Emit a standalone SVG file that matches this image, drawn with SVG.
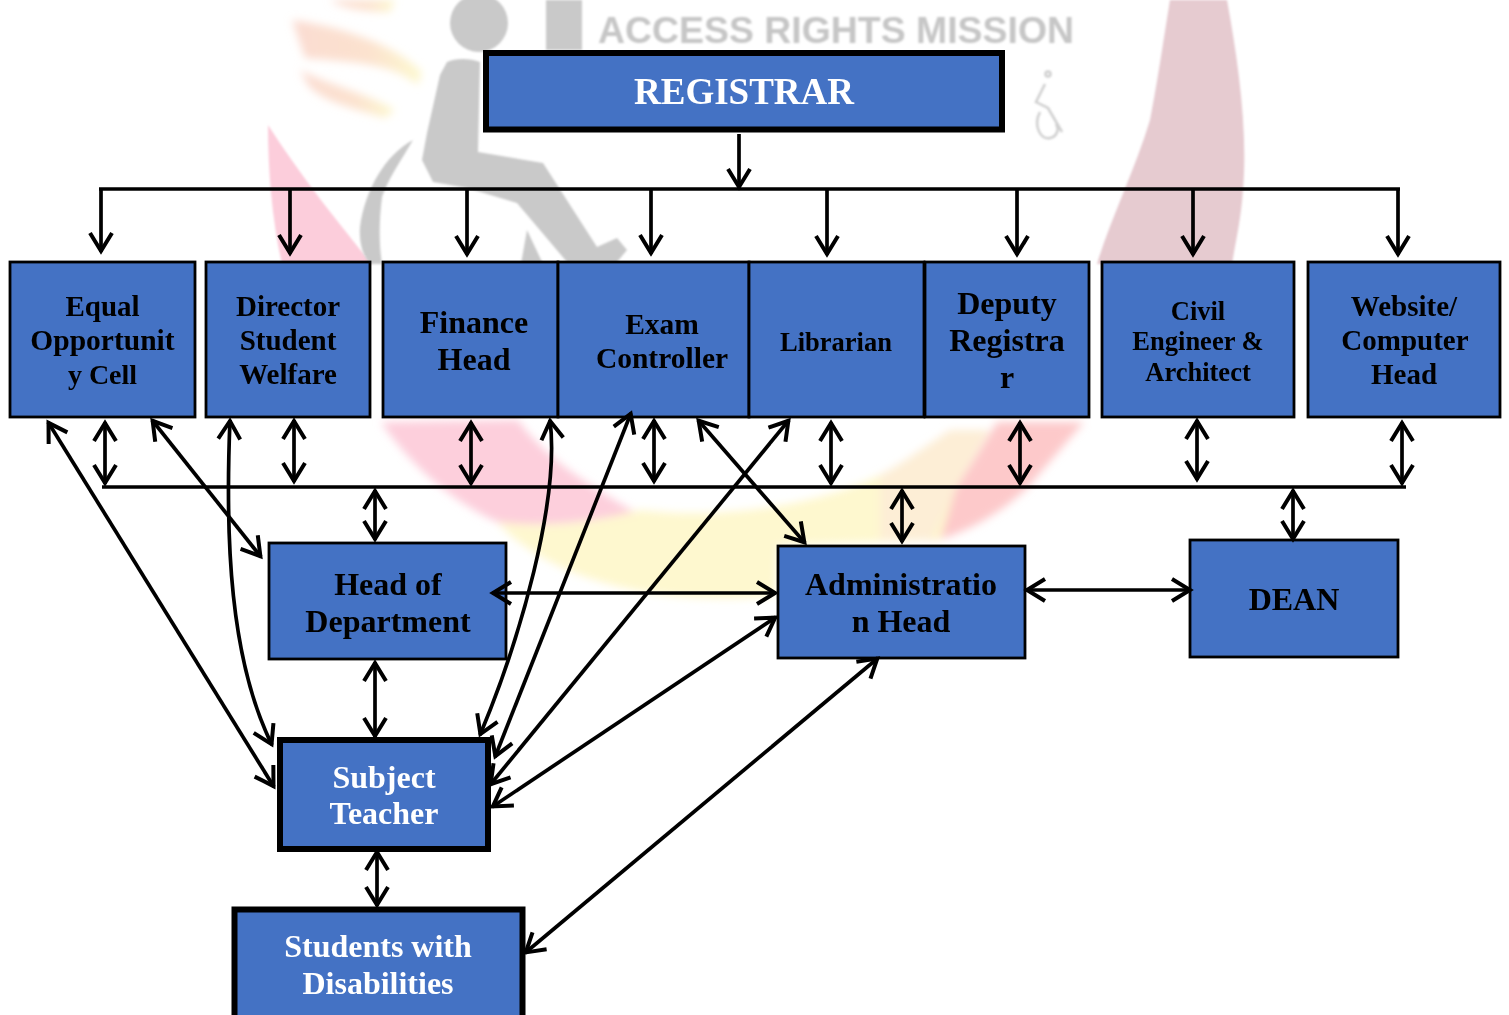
<svg xmlns="http://www.w3.org/2000/svg" width="1509" height="1015" viewBox="0 0 1509 1015">
<style>
.box{fill:#4472c4;stroke:#000;stroke-width:2.8}
.thick{fill:#4472c4;stroke:#000;stroke-width:6}
text{font-family:"Liberation Serif","Times New Roman",serif;font-weight:700;text-anchor:middle;fill:#000}
.w{fill:#fff}
.c path{fill:none;stroke:#000;stroke-width:3.7}
.one{marker-end:url(#a)}
.two{marker-start:url(#a);marker-end:url(#a)}
</style>
<defs>
<marker id="a" viewBox="-24 -14 28 28" refX="0" refY="0" markerUnits="userSpaceOnUse" markerWidth="28" markerHeight="28" orient="auto-start-reverse">
<path d="M-19,-11 L-1,0 L-19,11" fill="none" stroke="#000" stroke-width="4"/>
</marker>
<filter id="b" x="-15%" y="-15%" width="130%" height="130%"><feGaussianBlur stdDeviation="4"/></filter>
<filter id="b2" x="-5%" y="-5%" width="110%" height="110%"><feGaussianBlur stdDeviation="1"/></filter>
<linearGradient id="s"><stop offset="0" stop-color="#fbd3c6"/><stop offset="0.6" stop-color="#fcdcc4"/><stop offset="1" stop-color="#fdf8c4"/></linearGradient>
</defs>
<rect width="1509" height="1015" fill="#fff"/>
<g id="watermark">
<g filter="url(#b)">
<g opacity="0.8">
<path d="M330,0 L395,0 L390,12 C365,12 340,8 330,0Z" fill="url(#s)"/>
<path d="M292,20 C330,25 390,40 422,72 L418,85 C390,62 350,62 305,58Z" fill="url(#s)"/>
<path d="M300,70 C330,85 370,95 395,110 L385,118 C350,108 320,100 308,85Z" fill="url(#s)"/>
</g>
<path d="M1084,422 L1028,487 C1000,515 960,535 931,542 L957,487 L997,422Z" fill="#fdc9ca"/>
<path d="M381,422 L518,420 C540,450 570,475 635,512 C590,522 540,528 497,522 C450,500 410,465 381,422Z" fill="#fdcfdc"/>
<path d="M497,522 C560,530 610,518 640,510 C720,520 820,505 880,475 L960,475 L940,540 L778,545 L775,596 C680,605 560,590 497,522Z" fill="#fef8cf"/>
<path d="M880,475 C900,465 920,450 950,430 L990,430 L957,487 L931,540 L880,540Z" fill="#fdeed6"/>
</g>
<path d="M268,125 C300,175 340,225 372,264 L282,264 C272,220 268,170 268,125Z" fill="#fccddb" filter="url(#b2)"/>
<path d="M1170,0 L1227,0 C1238,60 1248,130 1243,190 C1241,220 1235,245 1232,264 L1097,264 C1110,220 1135,170 1150,120 C1158,80 1165,30 1170,0Z" fill="#e6cbd0" filter="url(#b2)"/>
<g filter="url(#b2)" fill="#c9c9c9" stroke="none">
<circle cx="479" cy="23" r="29"/>
<rect x="546" y="0" width="36" height="50"/>
<path d="M447,62 C455,58 470,58 480,62 L478,152 L543,163 L597,247 L617,238 L627,250 L617,262 L567,262 L517,203 L467,188 L433,182 L422,160 L427,133 L440,75Z"/>
<path d="M413,140 C385,155 365,190 360,227 C359,240 362,255 370,264 L382,264 C380,250 378,230 382,197 C388,180 398,165 407,150Z"/>
<path d="M527,230 L521,264 L543,264Z"/>
<text x="836" y="43" font-size="37" style="font-family:'Liberation Sans',sans-serif;fill:#c6c6c6" textLength="476" lengthAdjust="spacingAndGlyphs">ACCESS RIGHTS MISSION</text>
<g fill="none" stroke="#cfcfcf" stroke-width="2.5">
<circle cx="1048" cy="74" r="2.5"/>
<path d="M1045,84 L1036,102 L1048,108 L1062,132"/>
<path d="M1040,112 C1033,125 1040,140 1050,138 C1056,137 1060,130 1056,124"/>
</g>
</g>
</g>
<g id="registrar"><rect class="thick" x="486" y="53" width="516" height="76.5"/><text class="w" x="744" y="104" font-size="37">REGISTRAR</text></g>
<g id="equal"><rect class="box" x="10" y="262" width="185" height="155"/><text x="102.500" y="316" font-size="29">Equal</text><text x="102.500" y="350" font-size="29.500">Opportunit</text><text x="102.500" y="384" font-size="28">y Cell</text></g>
<g id="director"><rect class="box" x="206" y="262" width="164" height="155"/><text x="288" y="316" font-size="29">Director</text><text x="288" y="350" font-size="29">Student</text><text x="288" y="384" font-size="29">Welfare</text></g>
<g id="finance"><rect class="box" x="383" y="262" width="175" height="155"/><text x="474" y="333" font-size="32">Finance</text><text x="474" y="370" font-size="32">Head</text></g>
<g id="exam"><rect class="box" x="558" y="262" width="191" height="155"/><text x="662" y="334" font-size="29.500">Exam</text><text x="662" y="368" font-size="29.500">Controller</text></g>
<g id="librarian"><rect class="box" x="749" y="262" width="175" height="155"/><text x="836" y="351" font-size="26.500">Librarian</text></g>
<g id="deputy"><rect class="box" x="925" y="262" width="164" height="155"/><text x="1007" y="314" font-size="32">Deputy</text><text x="1007" y="351" font-size="32">Registra</text><text x="1007" y="388" font-size="32">r</text></g>
<g id="civil"><rect class="box" x="1102" y="262" width="192" height="155"/><text x="1198" y="320" font-size="26.500">Civil</text><text x="1198" y="350" font-size="26.500">Engineer &amp;</text><text x="1198" y="381" font-size="26.500">Architect</text></g>
<g id="website"><rect class="box" x="1308" y="262" width="192" height="155"/><text x="1404" y="316" font-size="29">Website/</text><text x="1405" y="350" font-size="29">Computer</text><text x="1404" y="384" font-size="29">Head</text></g>
<g id="hod"><rect class="box" x="269" y="543" width="237" height="116"/><text x="388" y="595" font-size="32">Head of</text><text x="388" y="632" font-size="32">Department</text></g>
<g id="admin"><rect class="box" x="778" y="546" width="247" height="112"/><text x="901" y="595" font-size="32">Administratio</text><text x="901" y="632" font-size="32">n Head</text></g>
<g id="dean"><rect class="box" x="1190" y="540" width="208" height="117"/><text x="1294" y="610" font-size="32">DEAN</text></g>
<g id="teacher"><rect class="thick" x="280" y="740" width="208" height="109"/><text class="w" x="384" y="788" font-size="32">Subject</text><text class="w" x="384" y="824" font-size="32">Teacher</text></g>
<g id="students"><rect class="thick" x="234.500" y="909.500" width="288" height="112"/><text class="w" x="378" y="957" font-size="32">Students with</text><text class="w" x="378" y="994" font-size="32">Disabilities</text></g>
<g id="connectors" class="c">
<path class="one" d="M739,134 V188"/>
<path d="M99,189 H1400"/>
<path class="one" d="M101,189 V252"/>
<path class="one" d="M290,189 V254"/>
<path class="one" d="M467,189 V255"/>
<path class="one" d="M651,189 V254"/>
<path class="one" d="M827,189 V255"/>
<path class="one" d="M1017,189 V255"/>
<path class="one" d="M1193,189 V255"/>
<path class="one" d="M1398,189 V255"/>
<path d="M102,487 H1406"/>
<path class="two" d="M105,422 V484"/>
<path class="two" d="M294,420 V482"/>
<path class="two" d="M471,422 V484"/>
<path class="two" d="M654,420 V482"/>
<path class="two" d="M831,422 V484"/>
<path class="two" d="M1020,422 V484"/>
<path class="two" d="M1197,420 V480"/>
<path class="two" d="M1402,422 V484"/>
<path class="two" d="M375,490 V540"/>
<path class="two" d="M902,490 V542"/>
<path class="two" d="M1293,490 V540"/>
<path class="two" d="M375,662 V737"/>
<path class="two" d="M377,851 V906"/>
<path class="two" d="M492,593 H776"/>
<path class="two" d="M1026,590 H1191"/>
<path class="two" d="M48,422 L274,787"/>
<path class="two" d="M152,420 L261,557"/>
<path class="two" d="M230,420 C225,540 230,660 272,745"/>
<path class="two" d="M550,420 C560,500 520,640 480,735"/>
<path class="two" d="M631,413 L495,757"/>
<path class="two" d="M789,420 L490,785"/>
<path class="two" d="M698,420 L805,543"/>
<path class="two" d="M776,617 L492,807"/>
<path class="two" d="M878,658 L525,953"/>
</g>
</svg>
